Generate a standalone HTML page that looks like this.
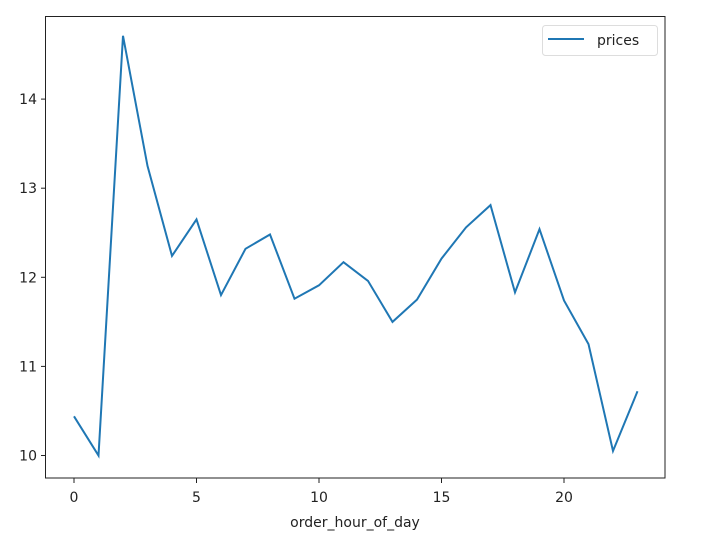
<!DOCTYPE html>
<html><head><meta charset="utf-8"><style>
html,body{margin:0;padding:0;background:#fff;}
svg{display:block;font-family:"DejaVu Sans","Liberation Sans",sans-serif;}
</style></head><body>
<svg id="chart" width="716" height="542" viewBox="0 0 716 542">
<rect x="0" y="0" width="716" height="542" fill="#fff"/>
<g id="marks"></g>
<rect x="45.5" y="16.5" width="619.5" height="461.5" fill="none" stroke="#222" stroke-width="1"/>
<g id="xticks"></g>
<g id="yticks"></g>
<text x="355" y="527" font-size="14" fill="#222" text-anchor="middle">order_hour_of_day</text>
<g>
<rect x="542.5" y="25.5" width="115" height="30" rx="3" fill="#fff" stroke="#ddd"/>
<line x1="548" y1="39" x2="584" y2="39" stroke="#1f77b4" stroke-width="2"/>
<text x="597" y="45" font-size="14" fill="#222">prices</text>
</g>
</svg>
<script>
const hours = [0,1,2,3,4,5,6,7,8,9,10,11,12,13,14,15,16,17,18,19,20,21,22,23];
const prices = [10.44,10.0,14.71,13.25,12.24,12.65,11.80,12.32,12.48,11.76,11.91,12.17,11.96,11.50,11.75,12.21,12.56,12.81,11.83,12.54,11.74,11.25,10.05,10.72];
const xTicks = [0,5,10,15,20];
const yTicks = [10,11,12,13,14];

const NS = "http://www.w3.org/2000/svg";
function xs(v){ return 74 + v*24.5; }
function ys(v){ return 455.5 - (v-10)*89.1; }
function mk(tag, attrs, parent){ const e=document.createElementNS(NS,tag); for(const k in attrs) e.setAttribute(k,attrs[k]); parent.appendChild(e); return e; }

const marks=document.getElementById('marks');
const pts = hours.map((h,i)=>xs(h).toFixed(1)+','+ys(prices[i]).toFixed(1)).join(' ');
const pl = mk('polyline',{points:pts,fill:'none',stroke:'#1f77b4','stroke-width':2,'stroke-linejoin':'miter'},marks);



const xg=document.getElementById('xticks');
xTicks.forEach(t=>{
  const l=mk('line',{x1:xs(t),y1:478,x2:xs(t),y2:483,stroke:'#222'},xg);
  
  
  const tx=mk('text',{x:xs(t),y:502,'font-size':14,fill:'#222','text-anchor':'middle'},xg);
  tx.textContent=t;
  
  
});
const yg=document.getElementById('yticks');
yTicks.forEach(t=>{
  const l=mk('line',{x1:41,y1:ys(t),x2:45.5,y2:ys(t),stroke:'#222'},yg);
  
  
  const tx=mk('text',{x:37,y:ys(t)+5,'font-size':14,fill:'#222','text-anchor':'end'},yg);
  tx.textContent=t;
  
  
});
</script>
</body></html>
